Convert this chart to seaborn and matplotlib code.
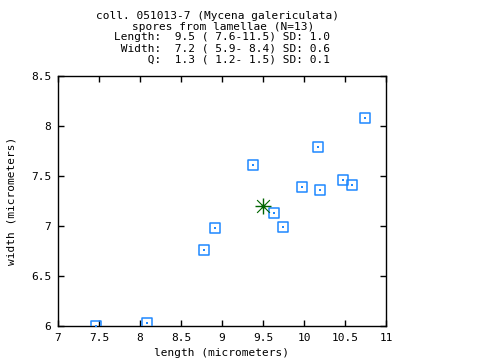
import matplotlib
matplotlib.use("Agg")
import matplotlib.pyplot as plt
import seaborn as sns
import pandas as pd

length = [10.74, 10.17, 9.38, 9.97, 10.20, 10.48, 10.58, 9.63, 9.74, 8.92, 8.78, 7.46, 8.08]
width = [8.08, 7.79, 7.61, 7.39, 7.36, 7.46, 7.41, 7.13, 6.99, 6.98, 6.76, 6.00, 6.03]
mean_length = [9.5]
mean_width = [7.2]

x_ticks = [7, 7.5, 8, 8.5, 9, 9.5, 10, 10.5, 11]
x_labels = ["7", "7.5", "8", "8.5", "9", "9.5", "10", "10.5", "11"]
y_ticks = [6, 6.5, 7, 7.5, 8, 8.5]
y_labels = ["6", "6.5", "7", "7.5", "8", "8.5"]

title_lines = [
    "coll. 051013-7 (Mycena galericulata)",
    "spores from lamellae (N=13)",
    "Length:  9.5 ( 7.6-11.5) SD: 1.0",
    " Width:  7.2 ( 5.9- 8.4) SD: 0.6",
    "     Q:  1.3 ( 1.2- 1.5) SD: 0.1",
]

df = pd.DataFrame({"length": length, "width": width})
mean_df = pd.DataFrame({"length": mean_length, "width": mean_width})

sns.set_theme(style="white")
plt.rcParams["font.family"] = ["DejaVu Sans Mono"]
mono = 8

fig = plt.figure(figsize=(4.8, 3.6), dpi=100)
ax = fig.add_axes([58 / 480, 34 / 360, 328 / 480, 250 / 360])

blue = "#1e88ff"
sns.scatterplot(data=df, x="length", y="width", marker="s", s=52,
                facecolors="none", edgecolor=blue, linewidth=1.1, ax=ax, zorder=3)
sns.scatterplot(data=df, x="length", y="width", marker="s", s=1.2,
                color=blue, linewidth=0, ax=ax, zorder=4)

# mean marker: gnuplot-like asterisk
green = "#006400"
sns.scatterplot(data=mean_df, x="length", y="width", marker="+", s=120,
                color=green, linewidth=1.0, ax=ax, zorder=5)
sns.scatterplot(data=mean_df, x="length", y="width", marker="x", s=85,
                color=green, linewidth=0.8, ax=ax, zorder=5)
sns.scatterplot(data=mean_df, x="length", y="width", marker="o", s=9,
                color=green, linewidth=0, ax=ax, zorder=6)

ax.set_xlim(7, 11)
ax.set_ylim(6, 8.5)
ax.set_xticks(x_ticks)
ax.set_xticklabels(x_labels)
ax.set_yticks(y_ticks)
ax.set_yticklabels(y_labels)
ax.tick_params(direction="in", length=4.5, width=1, color="black",
               top=True, right=True, bottom=True, left=True,
               labelsize=mono, labelcolor="black")
ax.tick_params(axis="x", pad=5)
ax.tick_params(axis="y", pad=5)
for sp in ax.spines.values():
    sp.set_color("black")
    sp.set_linewidth(1)
ax.grid(False)

ax.set_xlabel("length (micrometers)", fontsize=mono, color="black")
ax.set_ylabel("width (micrometers)", fontsize=mono, color="black")
ax.xaxis.label.set_va("center")
ax.yaxis.label.set_va("center")
ax.xaxis.set_label_coords((221.5 - 58) / 328, (326 - 353) / 250)
ax.yaxis.set_label_coords((12 - 58) / 328, 0.5)

centers_x = [218, 223, 221.5, 221.5, 221.5]
centers_y = [15.7, 26.5, 37.5, 48.5, 59.5]
for line, cx, cy in zip(title_lines, centers_x, centers_y):
    fig.text(cx / 480, 1 - cy / 360, line, ha="center", va="center",
             fontsize=mono, color="black")

fig.savefig("out.png", dpi=100)
